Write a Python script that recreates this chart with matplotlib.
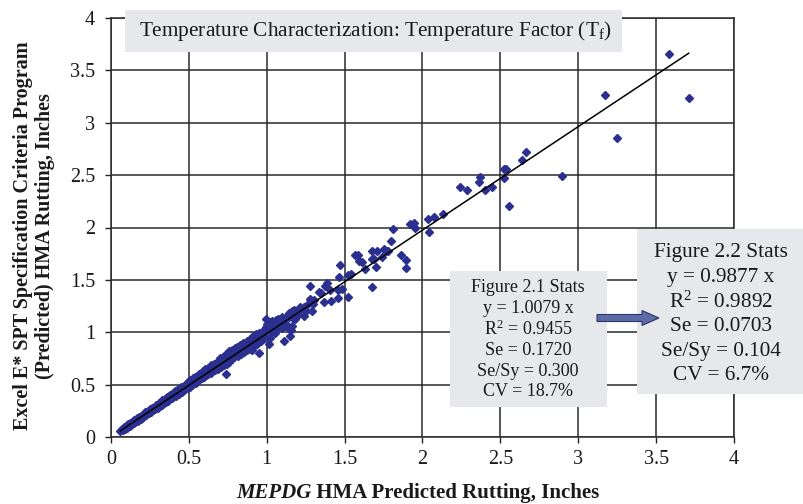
import matplotlib.pyplot as plt
from matplotlib.patches import Rectangle, FancyArrow

plt.rcParams['font.family'] = ['Liberation Serif', 'DejaVu Serif']
plt.rcParams['mathtext.fontset'] = 'custom'
plt.rcParams['mathtext.rm'] = 'Liberation Serif'
plt.rcParams['mathtext.it'] = 'Liberation Serif:italic'

W, H = 804, 504

# rutting pairs, MEPDG (x) vs. E* SPT spreadsheet (y), inches
low_x = [0.06, 0.07, 0.08, 0.085, 0.09, 0.10, 0.105, 0.11, 0.12, 0.125, 0.13, 0.14,
         0.145, 0.15, 0.155, 0.16, 0.17, 0.175, 0.18, 0.19, 0.195, 0.20, 0.21, 0.215,
         0.22, 0.225, 0.23, 0.24, 0.245, 0.25, 0.26, 0.265, 0.27, 0.28, 0.285, 0.29,
         0.30, 0.305, 0.31, 0.32, 0.325, 0.33, 0.34, 0.345, 0.35, 0.36, 0.365, 0.37,
         0.375, 0.38, 0.39, 0.395, 0.40, 0.41, 0.415, 0.42, 0.43, 0.435, 0.44, 0.45,
         0.455, 0.46, 0.47, 0.475, 0.48, 0.49, 0.495]
low_y = [0.06, 0.075, 0.07, 0.095, 0.08, 0.11, 0.09, 0.12, 0.105, 0.13, 0.115, 0.15,
         0.13, 0.165, 0.14, 0.16, 0.18, 0.155, 0.19, 0.175, 0.205, 0.185, 0.22, 0.20,
         0.235, 0.21, 0.225, 0.25, 0.225, 0.265, 0.24, 0.28, 0.255, 0.29, 0.265, 0.31,
         0.28, 0.32, 0.295, 0.335, 0.305, 0.35, 0.32, 0.365, 0.335, 0.38, 0.345, 0.39,
         0.36, 0.405, 0.37, 0.42, 0.385, 0.44, 0.395, 0.43, 0.46, 0.41, 0.45, 0.475,
         0.43, 0.48, 0.445, 0.50, 0.47, 0.515, 0.465]

mid_x = [0.50, 0.505, 0.51, 0.52, 0.525, 0.53, 0.54, 0.545, 0.55, 0.56, 0.565, 0.57,
         0.58, 0.585, 0.59, 0.60, 0.605, 0.61, 0.62, 0.625, 0.63, 0.64, 0.645, 0.65,
         0.66, 0.665, 0.67, 0.68, 0.685, 0.69, 0.70, 0.705, 0.71, 0.72, 0.725, 0.73,
         0.736, 0.74, 0.745, 0.75, 0.758, 0.76, 0.77, 0.775, 0.78, 0.79, 0.795, 0.80,
         0.81, 0.815, 0.82, 0.83, 0.835, 0.84, 0.85, 0.855, 0.86, 0.87, 0.875, 0.88,
         0.89, 0.895, 0.903, 0.91, 0.915, 0.92, 0.93, 0.935, 0.94, 0.95, 0.952, 0.96,
         0.97, 0.975, 0.98, 0.99, 0.995]
mid_y = [0.53, 0.48, 0.545, 0.50, 0.56, 0.515, 0.57, 0.52, 0.585, 0.54, 0.60, 0.55,
         0.615, 0.56, 0.63, 0.575, 0.645, 0.59, 0.66, 0.60, 0.64, 0.69, 0.61, 0.67,
         0.70, 0.635, 0.68, 0.72, 0.65, 0.70, 0.75, 0.67, 0.72, 0.76, 0.69, 0.74,
         0.598, 0.79, 0.70, 0.77, 0.82, 0.72, 0.80, 0.74, 0.83, 0.76, 0.85, 0.79,
         0.86, 0.77, 0.82, 0.88, 0.79, 0.85, 0.90, 0.81, 0.87, 0.92, 0.83, 0.89,
         0.94, 0.84, 0.831, 0.96, 0.87, 0.93, 0.98, 0.89, 0.95, 0.99, 0.80, 0.92,
         1.00, 0.94, 1.02, 0.96, 1.05]

upper_x = [1.0, 1.02, 1.03, 1.04, 1.05, 1.06, 1.08, 1.09, 1.10, 1.12, 1.14, 1.17,
           1.19, 1.20, 1.22, 1.25, 1.26, 1.30,
           0.997, 1.096, 1.07, 1.032, 1.117, 1.096, 1.138, 1.16, 1.156, 1.147, 1.113,
           1.012, 1.021, 0.967, 0.942, 1.053, 1.036, 1.01, 1.049,
           1.175, 1.16, 1.143, 1.134, 1.181, 1.239, 1.289, 1.241, 1.215, 1.278, 1.305,
           1.37, 1.412, 1.455, 1.522, 1.457, 1.485, 1.408, 1.333, 1.35, 1.372, 1.389,
           1.278, 1.678, 1.464, 1.52, 1.541, 1.468, 1.633, 1.70, 1.567, 1.586, 1.592,
           1.613, 1.678, 1.708, 1.678, 1.69, 1.738, 1.755, 1.764, 1.777, 1.86, 1.892,
           1.896, 1.80, 1.808, 1.922, 1.943, 1.954, 2.033, 2.044, 2.076, 2.13]
upper_y = [1.08, 1.10, 1.00, 1.07, 1.02, 1.12, 1.10, 1.06, 1.13, 1.09, 1.15, 1.14,
           1.19, 1.16, 1.22, 1.20, 1.26, 1.27,
           1.129, 1.149, 1.124, 1.107, 1.079, 1.038, 1.044, 1.06, 1.021, 0.964, 0.92,
           0.885, 0.942, 0.964, 0.974, 0.99, 1.021, 1.038, 1.06,
           1.212, 1.206, 1.187, 1.168, 1.129, 1.158, 1.206, 1.244, 1.238, 1.32, 1.308,
           1.289, 1.302, 1.33, 1.334, 1.403, 1.41, 1.40, 1.387, 1.378, 1.439, 1.47,
           1.439, 1.435, 1.53, 1.547, 1.553, 1.642, 1.604, 1.62, 1.735, 1.74, 1.677,
           1.668, 1.776, 1.776, 1.699, 1.699, 1.718, 1.798, 1.779, 1.779, 1.74, 1.69,
           1.61, 1.868, 1.986, 2.03, 2.04, 1.995, 2.081, 1.957, 2.10, 2.129]

high_x = [2.239, 2.286, 2.365, 2.369, 2.399, 2.446, 2.523, 2.536, 2.525, 2.555,
          2.641, 2.662, 2.894, 3.174, 3.249, 3.58, 3.709]
high_y = [2.389, 2.358, 2.434, 2.479, 2.358, 2.389, 2.561, 2.556, 2.473, 2.208,
          2.641, 2.718, 2.489, 3.268, 2.857, 3.66, 3.236]

FIT_SLOPE = 0.9877

title = 'Temperature Characterization: Temperature Factor (T$_\\mathregular{f}$)'
stats_21 = ['Figure 2.1 Stats', 'y = 1.0079 x', 'R$^\\mathregular{2}$ = 0.9455',
            'Se = 0.1720', 'Se/Sy = 0.300', 'CV = 18.7%']
stats_22 = ['Figure 2.2 Stats', 'y = 0.9877 x', 'R$^\\mathregular{2}$ = 0.9892',
            'Se = 0.0703', 'Se/Sy = 0.104', 'CV = 6.7%']
ticks = [0, 0.5, 1, 1.5, 2, 2.5, 3, 3.5, 4]
tick_labels = ['0', '0.5', '1', '1.5', '2', '2.5', '3', '3.5', '4']

xs = low_x + mid_x + upper_x + high_x
ys = low_y + mid_y + upper_y + high_y

TXT = '#1a1a1a'


def fx(px):
    return px / W


def fy(py):
    return 1 - py / H


fig = plt.figure(figsize=(W / 100, H / 100), dpi=100)
ax = fig.add_axes([fx(111), fy(437), fx(734) - fx(111), fy(18) - fy(437)])

ax.plot(xs, ys, linestyle='none', marker='D', ms=3.8, color='#2b2f8f',
        mec='#2b2f8f', zorder=3)
x0, x1 = min(xs), max(xs)
ax.plot([x0, x1], [FIT_SLOPE * x0, FIT_SLOPE * x1], color='black', lw=1.1, zorder=4)

ax.set_xlim(0, 4)
ax.set_ylim(0, 4)
ax.set_xticks(ticks)
ax.set_yticks(ticks)
ax.set_xticklabels(tick_labels)
ax.set_yticklabels(tick_labels)
ax.tick_params(direction='out', length=4.5, width=1, labelsize=14.5,
               colors='#222222', labelcolor=TXT)
ax.tick_params(axis='y', pad=7)
ax.tick_params(axis='x', pad=5)
ax.grid(True, color='#2a2a2a', lw=1.1)
ax.set_axisbelow(True)
for s in ax.spines.values():
    s.set_color('#2a2a2a')
    s.set_linewidth(1.1)

# y axis title, two centred lines
fig.text(fx(34), fy(236), 'Excel E* SPT Specification Criteria Program\n(Predicted) HMA Rutting, Inches',
         rotation=90, ha='center', va='center', multialignment='center',
         fontsize=14.5, fontweight='bold', linespacing=1.1, color=TXT)

# x axis title: italic program name followed by bold text
t1 = fig.text(fx(236), fy(493), 'MEPDG', ha='left', va='center', fontsize=15,
              fontweight='bold', fontstyle='italic', color=TXT)
ax.annotate(' HMA Predicted Rutting, Inches', xy=(1, 0), xycoords=t1,
            ha='left', va='bottom', fontsize=15, fontweight='bold',
            annotation_clip=False, color=TXT)

box_fc = '#e7e8ec'


def add_box(x0p, y0p, x1p, y1p):
    fig.patches.append(Rectangle((fx(x0p), fy(y1p)), fx(x1p) - fx(x0p), fy(y0p) - fy(y1p),
                                 transform=fig.transFigure, facecolor=box_fc,
                                 edgecolor='none', zorder=5))


add_box(125, 10, 622, 52)
fig.text(fx(375), fy(31), title, ha='center', va='center', fontsize=15.3, zorder=6,
         color=TXT)

add_box(450, 271, 607, 407)
for i, line in enumerate(stats_21):
    fig.text(fx(528), fy(288 + 20.8 * i), line, ha='center', va='center',
             fontsize=13, zorder=6, color=TXT)

add_box(637, 229, 810, 394)
for i, line in enumerate(stats_22):
    fig.text(fx(721), fy(253 + 24.6 * i), line, ha='center', va='center',
             fontsize=15.3, zorder=6, color=TXT)

fig.patches.append(FancyArrow(fx(597), fy(318), fx(659) - fx(597), 0,
                              width=7 / H, head_width=15 / H, head_length=fx(17),
                              length_includes_head=True, transform=fig.transFigure,
                              facecolor='#5a6ba6', edgecolor='#2c3566', lw=0.8,
                              zorder=6))

fig.savefig('out.png', dpi=100)
